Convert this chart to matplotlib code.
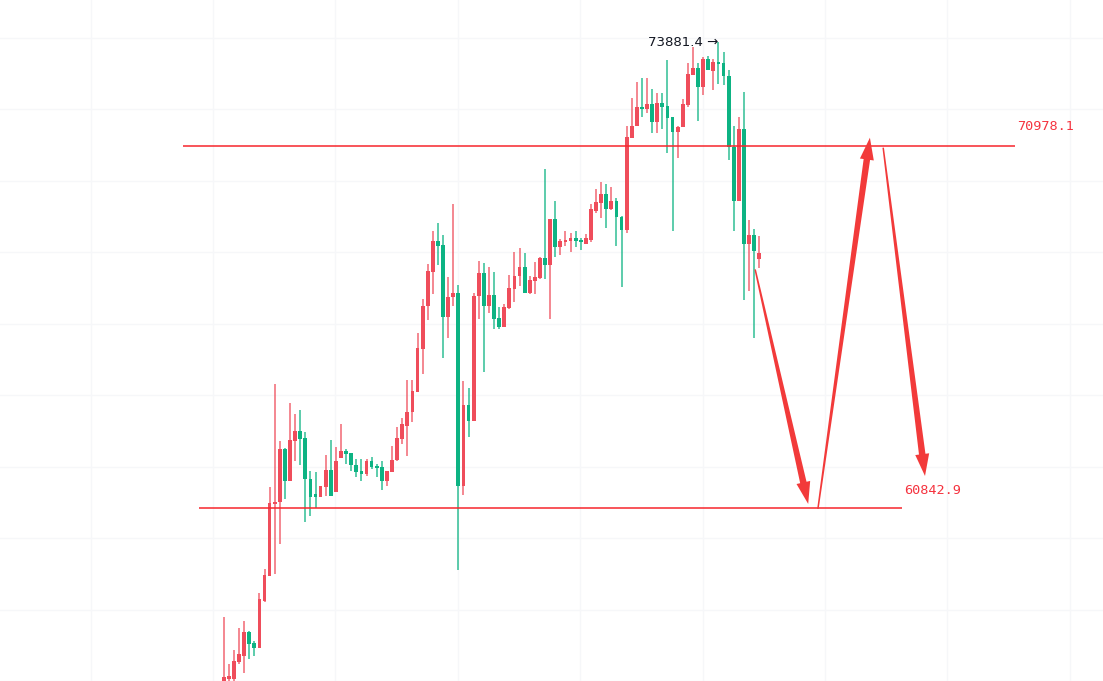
import numpy as np
import matplotlib
matplotlib.use("Agg")
import matplotlib.pyplot as plt
from matplotlib.patches import Polygon
from matplotlib.transforms import IdentityTransform

# candle data, red = rise, green = fall
opens = [55957, 56069, 56069, 56543, 56711, 57381, 57074, 56934, 58246, 58944,
         60954, 61010, 62490, 61597, 62713, 62993, 62797, 61652, 61234, 61150,
         61429, 61904, 61289, 62239, 62434, 62378, 62043, 61876, 61792, 62155,
         62015, 61987, 61597, 61848, 62183, 62769, 63132, 63523, 64081, 65282,
         66483, 67432, 68297, 68186, 66175, 66734, 66845, 61457, 63718, 63272,
         66762, 67404, 66483, 66790, 66147, 65896, 66427, 66957, 67320, 67571,
         66845, 67181, 67264, 67823, 67627, 68939, 68130, 68269, 68297, 68381,
         68325, 68241, 68325, 69163, 69386, 69638, 69219, 69442, 68995, 68632,
         71201, 71536, 72067, 72011, 72150, 71648, 72178, 72094, 71787, 71369,
         71508, 72122, 72960, 73155, 72625, 73407, 73072, 73323, 73295, 72932,
         70950, 69442, 71452, 68241, 68465, 67795]
highs = [57800, 56488, 56878, 57493, 57688, 57409, 57130, 58470, 59140, 61429,
         64305, 62713, 62518, 63774, 63467, 63579, 62965, 61876, 61848, 61457,
         62322, 62741, 62546, 63188, 62490, 62378, 62211, 62211, 62211, 62267,
         62071, 62155, 61876, 62574, 63104, 63355, 64416, 64416, 65729, 66678,
         67655, 68604, 68828, 68465, 67292, 69358, 67069, 64389, 64193, 66845,
         67739, 67683, 67571, 67432, 66455, 66538, 67348, 67990, 68102, 67962,
         67320, 67711, 67851, 70335, 68939, 69442, 68353, 68604, 68521, 68577,
         68381, 68493, 69358, 69777, 69973, 69917, 69833, 69526, 69023, 71536,
         72318, 72765, 72876, 72876, 72569, 72457, 72457, 73379, 71787, 71536,
         72290, 73295, 73742, 73295, 73463, 73490, 73407, 73881.4, 73602, 73100,
         71536, 71787, 72485, 68912, 68660, 68437]
lows = [55790, 56013, 56013, 56488, 56236, 56627, 56711, 56934, 58218, 58944,
        59000, 59838, 61094, 61597, 62155, 62043, 60452, 60619, 60843, 61150,
        61178, 61178, 61289, 62239, 62071, 61876, 61708, 61597, 61736, 61932,
        61708, 61345, 61457, 61848, 62155, 62630, 62295, 63244, 64081, 64584,
        66092, 66818, 67627, 65031, 65589, 66483, 59112, 61206, 62825, 63272,
        66120, 64640, 66287, 65840, 65840, 65896, 66399, 66594, 67041, 66845,
        66818, 66818, 67236, 67236, 66120, 67851, 67906, 68158, 67990, 68130,
        68046, 68241, 68269, 69107, 68967, 68688, 69191, 68158, 67013, 68521,
        71201, 71536, 71787, 71899, 71341, 71341, 71452, 70782, 68604, 70643,
        71508, 72067, 72960, 71676, 72402, 73100, 72541, 72709, 72681, 70587,
        68604, 69442, 66650, 66901, 65589, 67544]
closes = [56125, 56153, 56571, 56767, 57381, 57046, 56934, 58302, 58972, 60982,
          61010, 62490, 61597, 62741, 62993, 62769, 61652, 61150, 61150, 61457,
          61904, 61178, 62155, 62434, 62350, 62043, 61848, 61792, 62155, 61987,
          61959, 61597, 61876, 62183, 62797, 63188, 63523, 64109, 65310, 66483,
          67460, 68297, 68158, 66175, 66734, 66845, 61457, 63718, 63272, 66762,
          67404, 66483, 66790, 66120, 65896, 66455, 66985, 67320, 67571, 66845,
          67208, 67292, 67823, 67627, 68939, 68130, 68297, 68325, 68381, 68297,
          68269, 68381, 69219, 69414, 69638, 69219, 69442, 68995, 68632, 71229,
          71536, 72067, 72011, 72150, 71648, 72178, 72067, 71759, 71369, 71508,
          72150, 72988, 73155, 72625, 73407, 73100, 73323, 73267, 72932, 70950,
          69442, 71452, 68241, 68465, 68018, 67962]

level_high = 70978.1
level_low = 60842.9
peak_label = "73881.4 →"

UP = "#ef4d5b"
DOWN = "#0db383"
LINE = "#f7262c"

fig = plt.figure(figsize=(11.03, 6.81), dpi=100)
ax = fig.add_axes([0, 0, 1, 1])
ax.set_xlim(-43.86, 172.4)
ax.set_ylim(56041, 75054)

# very faint grid
ax.set_xticks(np.arange(-26.1, 172, 24))
ax.set_yticks(np.arange(56000, 75000, 2000))
ax.grid(True, color="#f6f7f9", lw=1)
ax.tick_params(length=0, labelbottom=False, labelleft=False)
for s in ax.spines.values():
    s.set_visible(False)
ax.set_axisbelow(True)

x = np.arange(len(opens))
o = np.array(opens); c = np.array(closes)
colors = [UP if cc >= oo else DOWN for oo, cc in zip(o, c)]
ax.vlines(x, lows, highs, colors=colors, lw=1.1, alpha=0.85, zorder=2)
bottom = np.minimum(o, c)
height = np.maximum(np.abs(c - o), 25)
ax.bar(x, height, bottom=bottom, width=0.74, color=colors, zorder=3)

# horizontal levels
ax.hlines(level_high, -7.98, 155.1, color=LINE, lw=1.1, zorder=4)
ax.hlines(level_low, -4.85, 133.0, color=LINE, lw=1.1, zorder=4)
ax.text(155.5, level_high + 530, f"{level_high}", color="#f5333f", fontsize=9.7,
        family="DejaVu Sans Mono", va="center", ha="left")
ax.text(133.5, level_low + 480, f"{level_low}", color="#f5333f", fontsize=9.7,
        family="DejaVu Sans Mono", va="center", ha="left")
ax.text(96.9, 73881.4 - 30, peak_label, color="#131722", fontsize=9.6,
        va="center", ha="right")


def taper_arrow(p0, p1, w0, w1, head_w, head_len, color):
    t = ax.transData
    s = np.array(t.transform(p0)); e = np.array(t.transform(p1))
    d = e - s
    u = d / np.hypot(*d)
    n = np.array([-u[1], u[0]])
    base = e - u * head_len
    pts = [s + n * w0 / 2, base + n * w1 / 2, base + n * head_w / 2, e,
           base - n * head_w / 2, base - n * w1 / 2, s - n * w0 / 2]
    ax.add_patch(Polygon(pts, closed=True, transform=IdentityTransform(),
                         facecolor=color, edgecolor="none", zorder=5))


ARROW = "#f23a3a"
taper_arrow((104.2, 67516), (114.6, 60954), 1.5, 6.5, 14, 22, ARROW)
taper_arrow((116.5, 60815), (126.7, 71201), 1.5, 6.5, 14, 22, ARROW)
taper_arrow((129.3, 70922), (137.5, 61736), 1.5, 6.5, 14, 22, ARROW)

fig.savefig("out.png", dpi=100)
